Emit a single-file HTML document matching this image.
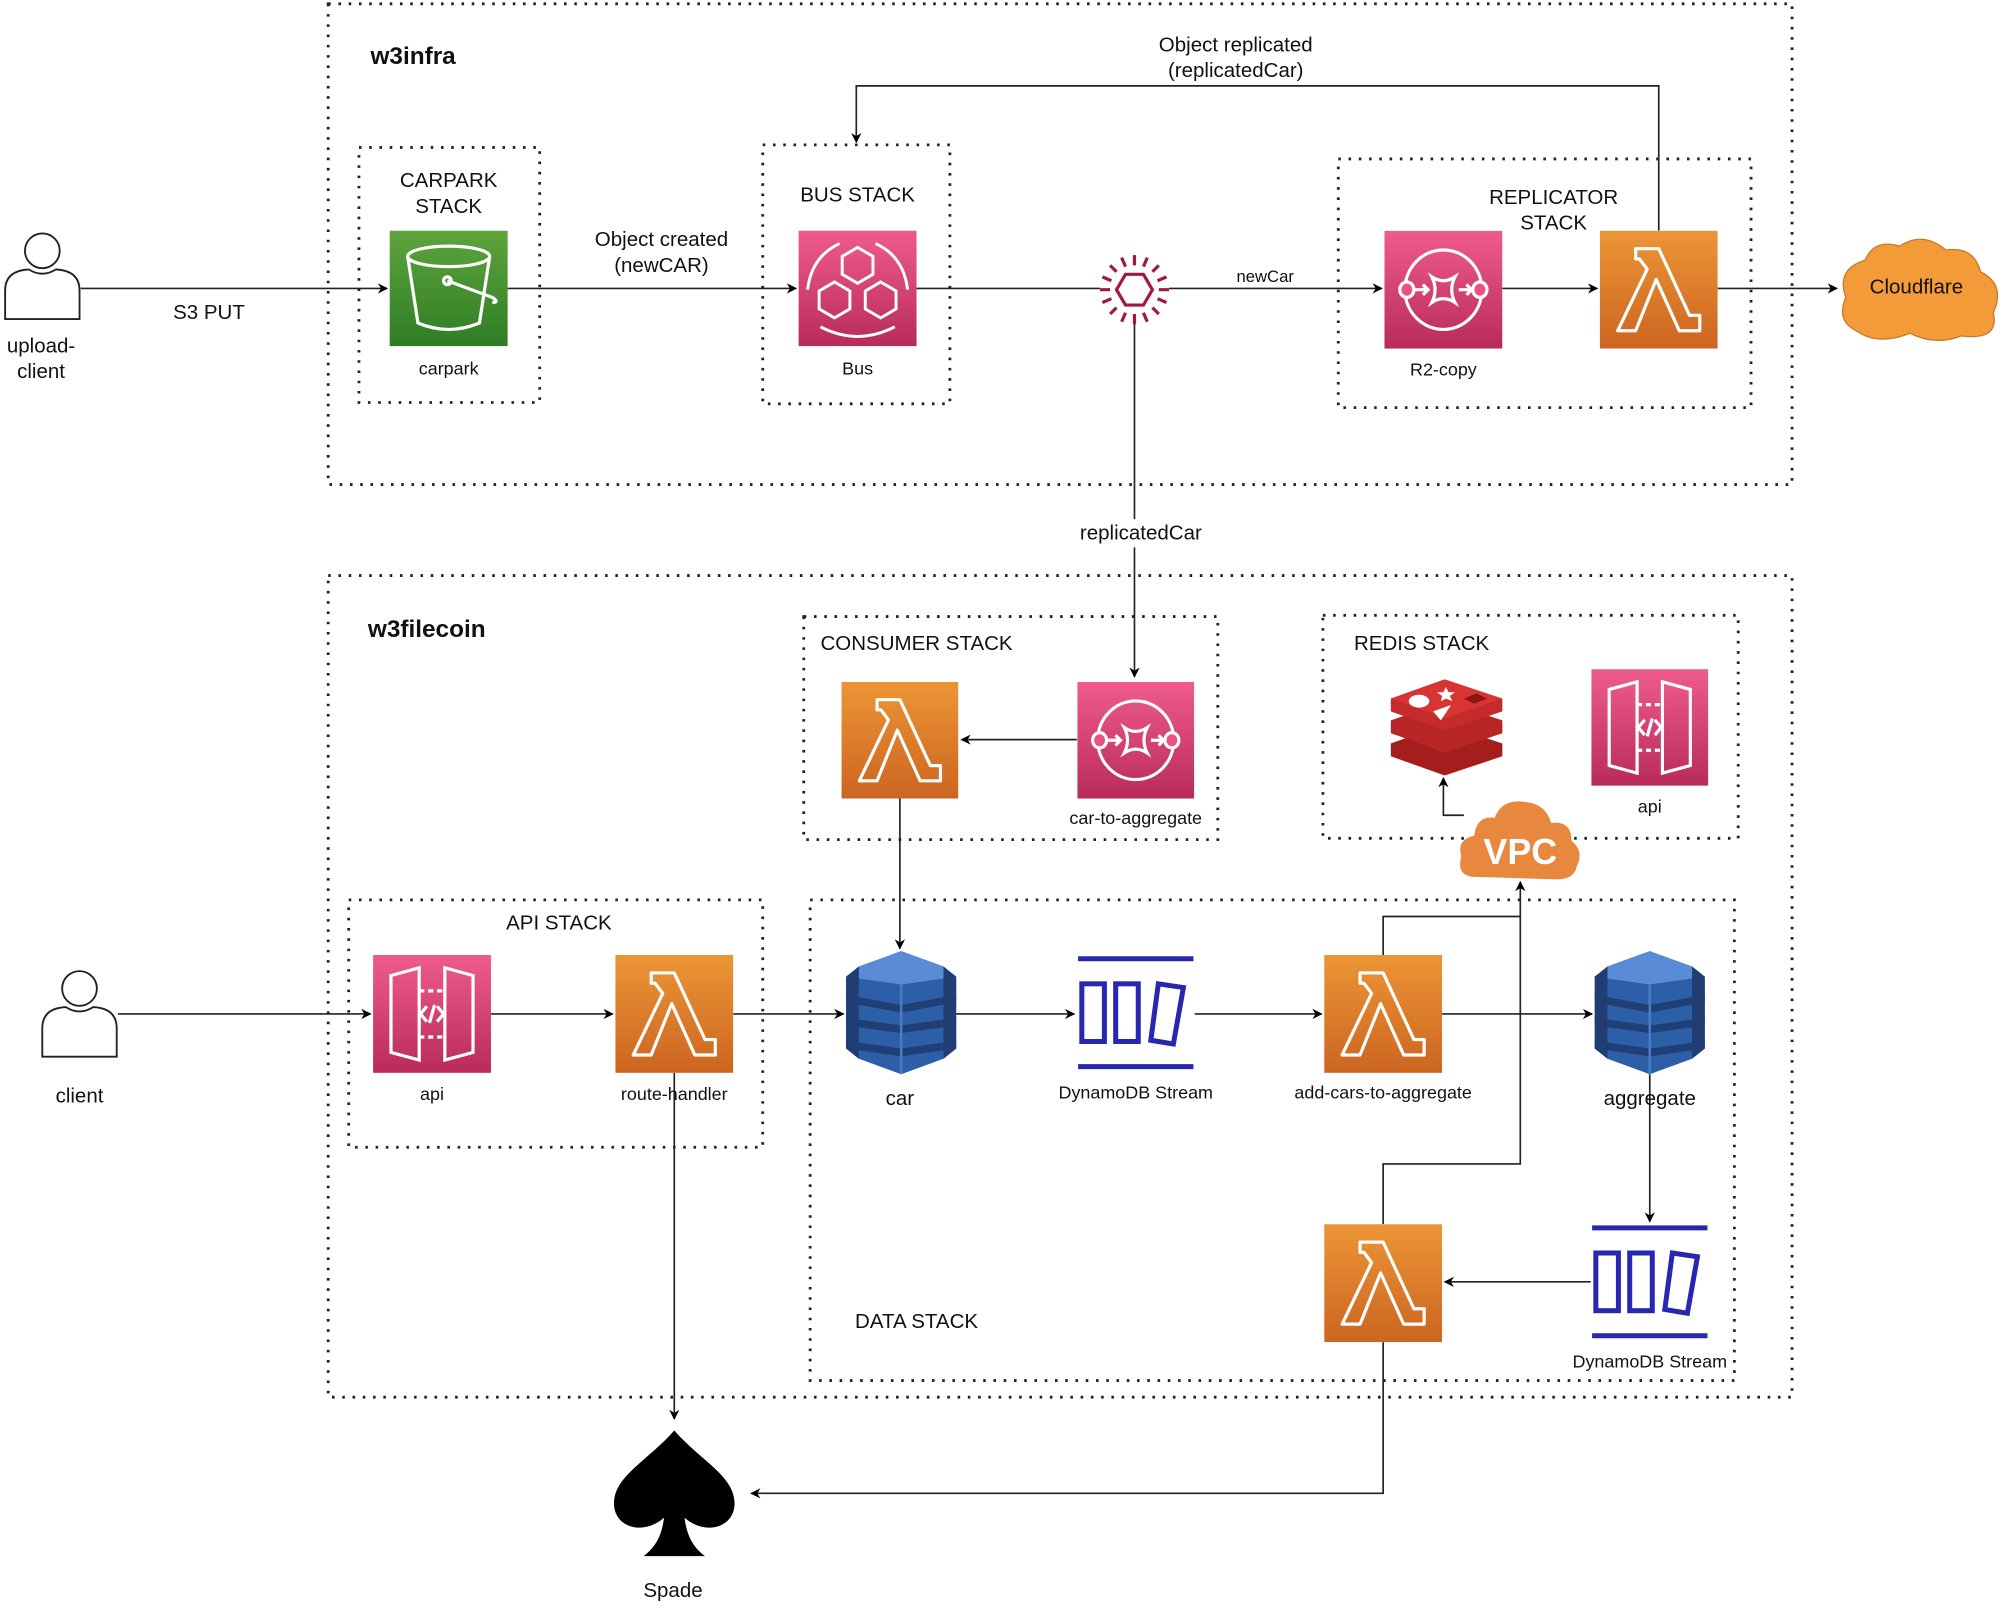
<!DOCTYPE html>
<html><head><meta charset="utf-8"><style>
html,body{margin:0;padding:0;background:#fff}
svg{display:block}
text{font-family:"Liberation Sans",Arial,sans-serif;fill:#111}
</style></head><body>
<svg width="2010" height="1610" viewBox="0 0 1568 1256" xmlns="http://www.w3.org/2000/svg">
<defs>
<linearGradient id="gO" x1="0" y1="0" x2="0" y2="1"><stop offset="0" stop-color="#ec9535"/><stop offset="1" stop-color="#cc6521"/></linearGradient>
<linearGradient id="gP" x1="0" y1="0" x2="0" y2="1"><stop offset="0" stop-color="#ef5c8c"/><stop offset="1" stop-color="#b82b5a"/></linearGradient>
<linearGradient id="gG" x1="0" y1="0" x2="0" y2="1"><stop offset="0" stop-color="#5fa43c"/><stop offset="1" stop-color="#2e7d25"/></linearGradient>
<marker id="ar" viewBox="0 0 10 10" refX="9" refY="5" markerWidth="8" markerHeight="8" orient="auto-start-reverse" markerUnits="userSpaceOnUse"><path d="M0,0 L10,5 L0,10 L3,5 z" fill="#000"/></marker>
<symbol id="lam" viewBox="0 0 92 92">
<rect width="92" height="92" fill="url(#gO)"/>
<path d="M28,14 H46 L70,66 H78 V78 H62 L44,38 L28,78 H14 L37,30 L31,22 H28 Z" fill="none" stroke="#fff" stroke-width="2.5" stroke-linejoin="round"/>
</symbol>
<symbol id="sqs" viewBox="0 0 92 92">
<rect width="92" height="92" fill="url(#gP)"/>
<ellipse cx="46" cy="46" rx="30" ry="31" fill="none" stroke="#fff" stroke-width="2.5"/>
<rect x="12" y="40" width="11" height="12" rx="6" fill="#ec4f83" stroke="#fff" stroke-width="2.5"/>
<rect x="69" y="40" width="11" height="12" rx="6" fill="#ec4f83" stroke="#fff" stroke-width="2.5"/>
<path d="M37,36 Q46,42 55,36 Q50,46 55,56 Q46,50 37,56 Q42,46 37,36Z" fill="none" stroke="#fff" stroke-width="2.5"/>
<path d="M24,46 H34 M30,42 L34,46 L30,50 M58,46 H68 M64,42 L68,46 L64,50" stroke="#fff" stroke-width="2.5" fill="none"/>
</symbol>
<symbol id="api" viewBox="0 0 92 92">
<rect width="92" height="92" fill="url(#gP)"/>
<path d="M14,16 L36,10 V82 L14,76 Z M78,16 L56,10 V82 L78,76 Z" fill="none" stroke="#fff" stroke-width="2.5"/>
<path d="M36,28 H56 M36,64 H56" stroke="#fff" stroke-width="2.5" stroke-dasharray="4,3"/>
<path d="M42,40 L37,46 L42,52 M50,40 L55,46 L50,52 M48,39 L44,53" stroke="#fff" stroke-width="2.5" fill="none"/>
</symbol>
<symbol id="ddb" viewBox="0 0 86 96">
<path d="M10,12 L43,0 L76,12 L86,20 V76 L76,84 L43,96 L10,84 L0,76 V20 Z" fill="#2d5fa8"/>
<path d="M10,12 L43,0 L76,12 L86,20 L43,26 L0,20Z" fill="#5a8bd6"/>
<path d="M0,34 L43,42 L86,34 V40 L43,48 L0,40Z M0,52 L43,58 L86,52 V58 L43,64 L0,58Z M0,70 L43,76 L86,70 V76 L43,82 L0,76Z" fill="#1f3f75"/>
<path d="M43,26 V96" stroke="#4a7bc8" stroke-width="2"/>
<path d="M0,20 L10,12 V84 L0,76Z M86,20 L76,12 V84 L86,76Z" fill="#203e73"/>
</symbol>
<symbol id="str" viewBox="0 0 92 92">
<path d="M0,3 H92 M0,89 H92" stroke="#2727b0" stroke-width="4"/>
<rect x="3" y="23" width="18" height="46" fill="none" stroke="#2727b0" stroke-width="4"/>
<rect x="30" y="23" width="18" height="46" fill="none" stroke="#2727b0" stroke-width="4"/>
<path d="M64,23 L84,26 L76,71 L58,68 Z" fill="none" stroke="#2727b0" stroke-width="4"/>
</symbol>
<symbol id="per" viewBox="0 0 62 72">
<circle cx="31" cy="16" r="14" fill="#fff" stroke="#222" stroke-width="1.5"/>
<path d="M1,71 V48 Q1,32 20,31 Q31,38 42,31 Q61,32 61,48 V71 Z" fill="#fff" stroke="#222" stroke-width="1.5"/>
</symbol>
</defs>

<g fill="none" stroke="#222" stroke-width="2.2" stroke-dasharray="2,6">
<rect x="256" y="3" width="1142" height="375"/>
<rect x="280" y="115" width="141" height="199"/>
<rect x="595" y="113" width="146" height="202"/>
<rect x="1044" y="124" width="322" height="194"/>
<rect x="256" y="449" width="1142" height="641"/>
<rect x="627" y="481" width="323" height="174"/>
<rect x="1032" y="480" width="324" height="174"/>
<rect x="272" y="702" width="323" height="193"/>
<rect x="632" y="702" width="721" height="375"/>
</g>

<g fill="none" stroke="#222" stroke-width="1.3">
<path d="M63,225 H302" marker-end="url(#ar)"/>
<path d="M396,225 H621" marker-end="url(#ar)"/>
<path d="M715,225 H858"/>
<path d="M912,225 H1078" marker-end="url(#ar)"/>
<path d="M1172,225 H1246" marker-end="url(#ar)"/>
<path d="M1340,225 H1433" marker-end="url(#ar)"/>
<path d="M1294,180 V67 H668 V111" marker-end="url(#ar)"/>
<path d="M885,252 V528" marker-end="url(#ar)"/>
<path d="M840,577 H750" marker-end="url(#ar)"/>
<path d="M1142,636 H1126 V607" marker-end="url(#ar)"/>
<path d="M92,791 H289" marker-end="url(#ar)"/>
<path d="M383,791 H478" marker-end="url(#ar)"/>
<path d="M572,791 H658" marker-end="url(#ar)"/>
<path d="M745,791 H838" marker-end="url(#ar)"/>
<path d="M932,791 H1031" marker-end="url(#ar)"/>
<path d="M1125,791 H1242" marker-end="url(#ar)"/>
<path d="M702,622 V740" marker-end="url(#ar)"/>
<path d="M1287,838 V953" marker-end="url(#ar)"/>
<path d="M1241,1000 H1127" marker-end="url(#ar)"/>
<path d="M1079,955 V908 H1186 V688" marker-end="url(#ar)"/>
<path d="M1079,745 V715 H1186"/>
<path d="M526,837 V1107" marker-end="url(#ar)"/>
<path d="M1079,1047 V1165 H586" marker-end="url(#ar)"/>
</g>

<!-- labels with white backgrounds -->
<rect x="838" y="405" width="104" height="22" fill="#fff"/>
<rect x="130" y="233" width="68" height="20" fill="#fff"/>

<!-- people -->
<use href="#per" x="3" y="180" width="60" height="70"/>
<use href="#per" x="32" y="755" width="60" height="71"/>

<!-- icons -->
<rect x="304" y="180" width="92" height="90" fill="url(#gG)"/>
<g fill="none" stroke="#fff" stroke-width="2.5">
<ellipse cx="350" cy="200" rx="32" ry="8"/>
<path d="M318,200 L326,252 Q350,262 374,252 L382,200"/>
<circle cx="349" cy="219" r="3"/>
<path d="M349,219 L384,232 Q390,236 384,236"/>
</g>
<rect x="623" y="180" width="92" height="90" fill="url(#gP)"/>
<g fill="none" stroke="#fff" stroke-width="2.3">
<path d="M669,193 L681,200 V214 L669,221 L657,214 V200Z"/>
<path d="M651,220 L663,227 V241 L651,248 L639,241 V227Z"/>
<path d="M687,220 L699,227 V241 L687,248 L675,241 V227Z"/>
<path d="M630,226 Q633,200 655,190 M708,226 Q705,200 683,190 M640,255 Q669,270 698,255"/>
</g>
<g stroke="#a3183f" stroke-width="2.5" fill="none">
<path d="M878,214 H892 L899,226 L892,238 H878 L871,226Z"/>
<path d="M885,199 V207 M885,245 V253 M858,226 H866 M904,226 H912 M866,207 L871,212 M904,207 L899,212 M866,245 L871,240 M904,245 L899,240 M875,201 L878,208 M895,201 L892,208 M875,251 L878,244 M895,251 L892,244 M860,216 L867,219 M910,216 L903,219 M860,236 L867,233 M910,236 L903,233"/>
</g>
<use href="#sqs" x="1080" y="180" width="92" height="92"/>
<use href="#lam" x="1248" y="180" width="92" height="92"/>
<path d="M1448,258 Q1432,250 1440,232 Q1432,210 1455,203 Q1462,186 1482,192 Q1500,180 1518,195 Q1540,192 1545,212 Q1565,222 1555,244 Q1560,266 1530,262 Q1510,270 1490,260 Q1465,270 1448,258Z" fill="#f29b38" stroke="#c77a2a" stroke-width="1"/>

<use href="#lam" x="656" y="532" width="92" height="91"/>
<use href="#sqs" x="840" y="532" width="92" height="91"/>
<!-- redis -->
<g>
<path d="M1085,580 L1127,565 L1172,580 V590 L1127,605 L1085,590Z" fill="#a41e1e"/>
<path d="M1085,562 L1127,547 L1172,562 V572 L1127,587 L1085,572Z" fill="#b82525"/>
<path d="M1085,545 L1127,530 L1172,545 V555 L1127,570 L1085,555Z" fill="#c62b2b"/>
<path d="M1085,545 L1127,530 L1172,545 L1127,560Z" fill="#d83434"/>
<ellipse cx="1107" cy="547" rx="8" ry="5" fill="#fff"/>
<path d="M1118,555 L1132,550 L1124,562Z" fill="#fff"/>
<path d="M1128,536 L1130,540 L1135,540 L1131,543 L1133,547 L1128,545 L1124,547 L1125,543 L1121,540 L1126,540Z" fill="#fff"/>
<path d="M1142,545 L1152,541 L1160,545 L1150,549Z" fill="#8a1515"/>
</g>
<use href="#api" x="1241" y="522" width="92" height="91"/>
<path d="M1148,684 Q1136,682 1140,668 Q1136,655 1150,652 Q1152,636 1166,638 Q1172,622 1192,626 Q1206,628 1210,642 Q1226,640 1226,656 Q1236,664 1230,676 Q1228,686 1215,686Z" fill="#e8873e"/>
<text x="1186" y="674" text-anchor="middle" font-size="28" font-weight="bold" style="fill:#fff">VPC</text>

<use href="#api" x="291" y="745" width="92" height="92"/>
<use href="#lam" x="480" y="745" width="92" height="92"/>
<use href="#ddb" x="660" y="742" width="86" height="96"/>
<use href="#str" x="840" y="745" width="92" height="90"/>
<use href="#lam" x="1033" y="745" width="92" height="92"/>
<use href="#ddb" x="1244" y="742" width="86" height="96"/>
<use href="#str" x="1241" y="955" width="92" height="90"/>
<use href="#lam" x="1033" y="955" width="92" height="92"/>

<!-- spade -->
<path d="M526,1116 C505,1140 478,1152 479,1174 C480,1192 502,1198 518,1184 C516,1200 510,1208 502,1214 H550 C542,1208 536,1200 534,1184 C550,1198 572,1192 573,1174 C574,1152 547,1140 526,1116Z" fill="#000"/>

<!-- text -->
<g font-size="16" text-anchor="middle">
<text x="289" y="50" text-anchor="start" font-size="19" font-weight="bold">w3infra</text>
<text x="287" y="497" text-anchor="start" font-size="19" font-weight="bold">w3filecoin</text>
<text x="350" y="146">CARPARK</text>
<text x="350" y="166">STACK</text>
<text x="669" y="157">BUS STACK</text>
<text x="1212" y="159">REPLICATOR</text>
<text x="1212" y="179">STACK</text>
<text x="32" y="275">upload-</text>
<text x="32" y="295">client</text>
<text x="163" y="249">S3 PUT</text>
<text x="516" y="192">Object created</text>
<text x="516" y="212">(newCAR)</text>
<text x="987" y="220" font-size="13">newCar</text>
<text x="964" y="40">Object replicated</text>
<text x="964" y="60">(replicatedCar)</text>
<text x="1495" y="229">Cloudflare</text>
<text x="890" y="421">replicatedCar</text>
<text x="715" y="507" text-anchor="middle">CONSUMER STACK</text>
<text x="1109" y="507">REDIS STACK</text>
<text x="436" y="725">API STACK</text>
<text x="715" y="1036">DATA STACK</text>
<text x="62" y="860">client</text>
<text x="702" y="862">car</text>
<text x="1287" y="862">aggregate</text>
<text x="525" y="1246">Spade</text>
</g>
<g font-size="14" text-anchor="middle" style="fill:#333">
<text x="350" y="292">carpark</text>
<text x="669" y="292">Bus</text>
<text x="1126" y="293">R2-copy</text>
<text x="886" y="643">car-to-aggregate</text>
<text x="1287" y="634">api</text>
<text x="337" y="858">api</text>
<text x="526" y="858">route-handler</text>
<text x="886" y="857">DynamoDB Stream</text>
<text x="1079" y="857">add-cars-to-aggregate</text>
<text x="1287" y="1067">DynamoDB Stream</text>
</g>
</svg>
</body></html>
